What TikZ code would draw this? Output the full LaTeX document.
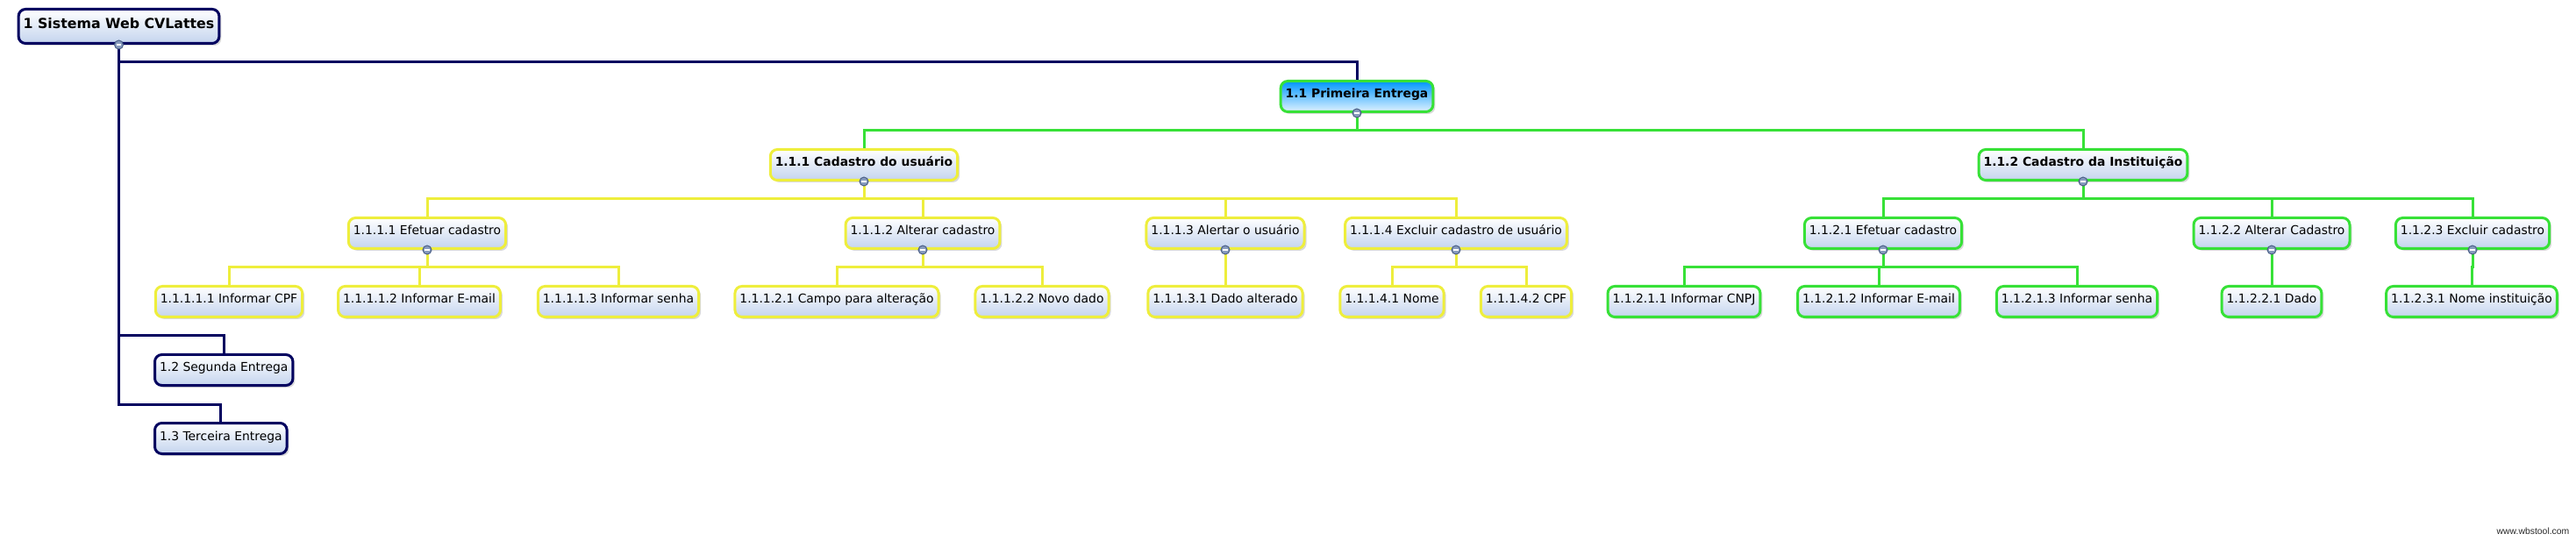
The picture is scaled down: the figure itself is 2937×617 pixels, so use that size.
\documentclass[tikz,border=0pt]{standalone}
\usepackage{fontspec}
\setmainfont{DejaVu Sans}
\newfontfamily\markfont{Liberation Sans}
\usetikzlibrary{shadows}
\definecolor{navy1}{RGB}{0,0,95}
\definecolor{green1}{RGB}{55,225,55}
\definecolor{yellow1}{RGB}{238,238,60}
\definecolor{boxblue}{RGB}{196,212,238}
\definecolor{headblue}{RGB}{0,150,255}
\definecolor{knobfill}{RGB}{135,155,190}
\definecolor{knobline}{RGB}{75,95,135}

% collapse button under a node
\newcommand{\knob}[1]{%
  \filldraw[draw=knobline,fill=knobfill,line width=1pt] (#1.south) circle (5pt);
  \draw[white,line width=1.2pt] ([xshift=-2.8pt]#1.south) -- ([xshift=2.8pt]#1.south);}

\begin{document}
\begin{tikzpicture}[x=1pt,y=-1pt,
  wbs/.style={rounded corners=8pt,line width=3pt,top color=white,bottom color=boxblue,
    inner xsep=5.5pt,minimum height=35pt,text height=11pt,text depth=7pt,
    font=\fontsize{13.9}{16}\selectfont,
    drop shadow={shadow xshift=2.5pt,shadow yshift=-2.5pt,opacity=.3}},
  navybox/.style={wbs,draw=navy1},
  greenbox/.style={wbs,draw=green1},
  yellowbox/.style={wbs,draw=yellow1},
  bold/.style={font=\fontsize{13.9}{16}\selectfont\bfseries},
  navyline/.style={navy1,line width=3pt},
  greenline/.style={green1,line width=3pt},
  yellowline/.style={yellow1,line width=3pt}]
\useasboundingbox (0,0) rectangle (2937,617);

% levels 1 and 2
\node[navybox,font=\fontsize{15.8}{18}\selectfont\bfseries,minimum height=39pt,text height=12.5pt,text depth=8pt] (root) at (135.5,30) {1 Sistema Web CVLattes};
\node[greenbox,bold,top color=headblue,middle color=headblue!85,bottom color=headblue!12] (e1) at (1547,110) {1.1 Primeira Entrega};
\node[navybox,anchor=west] (e2) at (175,422) {1.2 Segunda Entrega};
\node[navybox,anchor=west] (e3) at (175,500) {1.3 Terceira Entrega};

% level 3
\node[yellowbox,bold] (cu) at (985,188) {1.1.1 Cadastro do usuário};
\node[greenbox,bold] (ci) at (2375,188) {1.1.2 Cadastro da Instituição};

% level 4
\node[yellowbox] (cu1) at (487,266) {1.1.1.1 Efetuar cadastro};
\node[yellowbox] (cu2) at (1052,266) {1.1.1.2 Alterar cadastro};
\node[yellowbox] (cu3) at (1397,266) {1.1.1.3 Alertar o usuário};
\node[yellowbox] (cu4) at (1660,266) {1.1.1.4 Excluir cadastro de usuário};
\node[greenbox] (ci1) at (2147,266) {1.1.2.1 Efetuar cadastro};
\node[greenbox] (ci2) at (2590,266) {1.1.2.2 Alterar Cadastro};
\node[greenbox] (ci3) at (2819,266) {1.1.2.3 Excluir cadastro};

% level 5
\node[yellowbox] (cu11) at (261,344) {1.1.1.1.1 Informar CPF};
\node[yellowbox] (cu12) at (478,344) {1.1.1.1.2 Informar E-mail};
\node[yellowbox] (cu13) at (705,344) {1.1.1.1.3 Informar senha};
\node[yellowbox] (cu21) at (954,344) {1.1.1.2.1 Campo para alteração};
\node[yellowbox] (cu22) at (1188,344) {1.1.1.2.2 Novo dado};
\node[yellowbox] (cu31) at (1397,344) {1.1.1.3.1 Dado alterado};
\node[yellowbox] (cu41) at (1587,344) {1.1.1.4.1 Nome};
\node[yellowbox] (cu42) at (1740,344) {1.1.1.4.2 CPF};
\node[greenbox] (ci11) at (1920,344) {1.1.2.1.1 Informar CNPJ};
\node[greenbox] (ci12) at (2142,344) {1.1.2.1.2 Informar E-mail};
\node[greenbox] (ci13) at (2368,344) {1.1.2.1.3 Informar senha};
\node[greenbox] (ci21) at (2590,344) {1.1.2.2.1 Dado};
\node[greenbox] (ci31) at (2818,344) {1.1.2.3.1 Nome instituição};

\node[font=\markfont\fontsize{10.4}{12}\selectfont,text=black!85] (mark) at (2888,606) {www.wbstool.com};

% connectors
\foreach \c in {e1,e2,e3}
  \draw[navyline] (root.south) |- ([yshift=20pt]\c.north) -- (\c.north);
\foreach \c in {cu,ci}
  \draw[greenline] (e1.south) |- ([yshift=20pt]\c.north) -- (\c.north);
\foreach \c in {cu1,cu2,cu3,cu4}
  \draw[yellowline] (cu.south) |- ([yshift=20pt]\c.north) -- (\c.north);
\foreach \c in {ci1,ci2,ci3}
  \draw[greenline] (ci.south) |- ([yshift=20pt]\c.north) -- (\c.north);
\foreach \p/\c in {cu1/cu11,cu1/cu12,cu1/cu13,cu2/cu21,cu2/cu22,cu3/cu31,cu4/cu41,cu4/cu42}
  \draw[yellowline] (\p.south) |- ([yshift=20pt]\c.north) -- (\c.north);
\foreach \p/\c in {ci1/ci11,ci1/ci12,ci1/ci13,ci2/ci21,ci3/ci31}
  \draw[greenline] (\p.south) |- ([yshift=20pt]\c.north) -- (\c.north);

\foreach \n in {root,e1,cu,ci,cu1,cu2,cu3,cu4,ci1,ci2,ci3}
  {\knob{\n}}
\end{tikzpicture}
\end{document}
